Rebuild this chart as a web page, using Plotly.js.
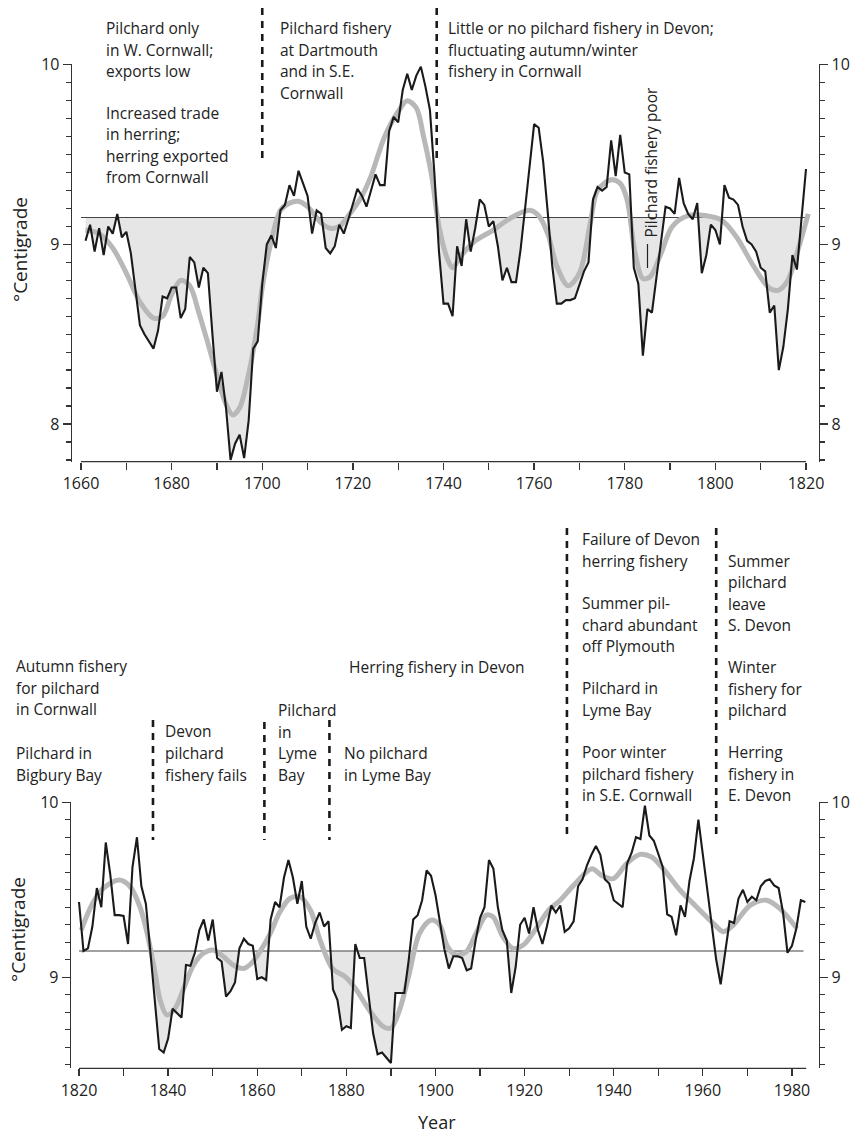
<!DOCTYPE html>
<html><head><meta charset="utf-8">
<script src="https://cdn.plot.ly/plotly-3.0.1.min.js"></script>
<style>body{margin:0;background:#fff}</style>
</head><body><div id="chart" style="width:851px;height:1137px"></div>
<script>
// ---------------- DATA ----------------
const meanTemp = 9.15;

const topStartYear = 1661;
const topTemps = [
  9.02, 9.11, 8.96, 9.09, 8.94, 9.10, 9.06, 9.17, 9.04, 9.07,
  8.95, 8.74, 8.55, 8.50, 8.46, 8.42, 8.52, 8.71, 8.70, 8.76,
  8.76, 8.59, 8.64, 8.93, 8.90, 8.76, 8.87, 8.84, 8.50, 8.18,
  8.29, 8.09, 7.80, 7.89, 7.94, 7.81, 8.02, 8.42, 8.46, 8.78,
  9.00, 9.05, 8.98, 9.19, 9.22, 9.33, 9.27, 9.41, 9.34, 9.27,
  9.06, 9.19, 9.17, 8.98, 8.95, 8.99, 9.11, 9.06, 9.14, 9.22,
  9.31, 9.27, 9.21, 9.30, 9.39, 9.33, 9.33, 9.63, 9.71, 9.68,
  9.86, 9.95, 9.86, 9.94, 9.99, 9.88, 9.75, 9.39, 8.96, 8.67,
  8.67, 8.60, 8.99, 8.88, 9.14, 8.96, 9.09, 9.25, 9.22, 9.10,
  9.13, 8.99, 8.80, 8.87, 8.79, 8.79, 8.97, 9.20, 9.43, 9.67,
  9.65, 9.46, 9.18, 8.88, 8.67, 8.67, 8.69, 8.69, 8.70, 8.77,
  8.85, 8.90, 9.25, 9.32, 9.30, 9.32, 9.58, 9.38, 9.61, 9.40,
  9.39, 8.87, 8.78, 8.38, 8.64, 8.62, 8.82, 9.02, 9.21, 9.20,
  9.17, 9.37, 9.23, 9.17, 9.14, 9.23, 8.84, 8.94, 9.11, 9.08,
  9.00, 9.33, 9.26, 9.25, 9.22, 9.10, 9.02, 9.00, 8.96, 8.87,
  8.85, 8.62, 8.66, 8.30, 8.43, 8.64, 8.94, 8.86, 9.15, 9.42
];
const topSmoothYears = [1661,1664,1667,1670,1673,1676,1678,1680,1682,1684,1686,1688,1690,1692,1693.5,1695,1697,1699,1700,1702,1704,1706,1708,1710,1713,1715,1717,1719,1722,1724,1727,1730,1732,1734,1735.6,1737.4,1739,1741,1742,1744,1747,1751,1755,1759,1761,1763,1765,1767.5,1770,1772.4,1774,1777,1779,1780.5,1782.3,1784,1785.6,1788,1790.5,1794,1798,1801.4,1804.7,1808.4,1812,1814,1816,1818,1820.5];
const topSmoothTemps = [9.08,9.06,8.98,8.84,8.68,8.59,8.60,8.72,8.80,8.77,8.62,8.45,8.27,8.11,8.05,8.09,8.28,8.56,8.76,9.02,9.19,9.23,9.24,9.21,9.12,9.09,9.10,9.16,9.27,9.38,9.60,9.74,9.80,9.76,9.60,9.38,9.10,8.91,8.87,8.94,9.02,9.08,9.15,9.19,9.16,9.06,8.88,8.77,8.84,9.12,9.30,9.36,9.34,9.25,8.95,8.81,8.82,8.95,9.10,9.16,9.16,9.135,9.04,8.88,8.755,8.745,8.80,8.95,9.17];

const bottomStartYear = 1820;
const bottomTemps = [
  9.43, 9.15, 9.165, 9.29, 9.51, 9.40, 9.77, 9.59, 9.355, 9.355,
  9.35, 9.19, 9.63, 9.80, 9.52, 9.42, 9.15, 8.85, 8.59, 8.57,
  8.65, 8.82, 8.795, 8.77, 9.07, 9.065, 9.14, 9.27, 9.33, 9.21,
  9.33, 9.11, 9.09, 8.89, 8.92, 8.97, 9.165, 9.22, 9.19, 9.18,
  8.99, 9.00, 8.985, 9.33, 9.43, 9.40, 9.57, 9.67, 9.57, 9.42,
  9.55, 9.29, 9.22, 9.31, 9.37, 9.29, 9.32, 8.93, 8.87, 8.70,
  8.72, 8.71, 9.19, 9.11, 9.11, 8.90, 8.68, 8.56, 8.57, 8.54,
  8.51, 8.91, 8.91, 8.91, 9.10, 9.33, 9.355, 9.44, 9.61, 9.58,
  9.47, 9.31, 9.16, 9.05, 9.12, 9.12, 9.11, 9.04, 9.05, 9.21,
  9.34, 9.40, 9.67, 9.62, 9.40, 9.27, 9.21, 8.91, 9.06, 9.30,
  9.34, 9.25, 9.40, 9.27, 9.19, 9.29, 9.41, 9.37, 9.41, 9.26,
  9.28, 9.32, 9.52, 9.56, 9.64, 9.70, 9.75, 9.70, 9.56, 9.535,
  9.44, 9.42, 9.40, 9.65, 9.71, 9.80, 9.79, 9.98, 9.81, 9.78,
  9.71, 9.63, 9.36, 9.345, 9.24, 9.41, 9.345, 9.55, 9.68, 9.90,
  9.70, 9.50, 9.30, 9.10, 8.96, 9.155, 9.32, 9.31, 9.45, 9.50,
  9.43, 9.46, 9.44, 9.52, 9.55, 9.56, 9.525, 9.51, 9.37, 9.14,
  9.18, 9.28, 9.44, 9.43
];
const bottomSmoothYears = [1820.5,1823,1825.5,1829,1831.4,1833.7,1835.3,1837.1,1838.2,1839.7,1841.5,1843.4,1845.7,1847.9,1850.1,1852.4,1854.6,1856.9,1858.7,1860.6,1862.9,1865.1,1867.3,1869.6,1872,1874,1876.9,1879.9,1882.2,1885.2,1888.2,1890,1891.9,1894.1,1896.4,1899,1900.9,1902.7,1904.6,1906.9,1909.1,1911.4,1912.9,1915.1,1917.4,1919.7,1922.6,1925.4,1928,1931,1935.1,1937.3,1939.9,1942.9,1945.9,1948.5,1951.1,1954.9,1958.6,1962.4,1964.6,1966.8,1970.6,1974.3,1977.3,1981.1];
const bottomSmoothTemps = [9.27,9.42,9.51,9.555,9.52,9.40,9.25,9.02,8.87,8.785,8.82,8.93,9.07,9.137,9.156,9.118,9.07,9.05,9.08,9.146,9.25,9.374,9.45,9.46,9.38,9.22,9.05,9.00,8.93,8.81,8.72,8.71,8.81,9.02,9.25,9.326,9.30,9.175,9.127,9.146,9.25,9.355,9.346,9.232,9.165,9.184,9.279,9.383,9.44,9.525,9.62,9.582,9.563,9.649,9.702,9.687,9.62,9.497,9.402,9.307,9.26,9.297,9.411,9.44,9.392,9.279];

const topTickYears = [1660,1670,1680,1690,1700,1710,1720,1730,1740,1750,1760,1770,1780,1790,1800,1810,1820];
const topTickLabels = ['1660','','1680','','1700','','1720','','1740','','1760','','1780','','1800','','1820'];
const bottomTickYears = [1820,1830,1840,1850,1860,1870,1880,1890,1900,1910,1920,1930,1940,1950,1960,1970,1980];
const bottomTickLabels = ['1820','','1840','','1860','','1880','','1900','','1920','','1940','','1960','','1980'];

// ---------------- LAYOUT GEOMETRY ----------------
const W = 851, H = 1137;
const topXDom = [72/W, 819/W], topXRange = [1658.01, 1822.87];
const topYDom = [1-461.7/H, 1-64.3/H], topYRange = [7.79, 10.003];
const botXDom = [71/W, 819/W], botXRange = [1818.2, 1986.07];
const botYDom = [1-1068.3/H, 1-801.7/H], botYRange = [8.48, 10.003];
const topAxisSpan = [1660, 1820], botAxisSpan = [1820, 1983.2];
const topMeanSpan = [1660, 1820], botMeanSpan = [1820, 1982.6];

function xp(year, dom, rng){ return dom[0] + (year - rng[0])/(rng[1]-rng[0])*(dom[1]-dom[0]); }
function pX(px){ return px/W; }
function pY(py){ return 1 - py/H; }

function yearsFrom(start, n){ const a=[]; for(let i=0;i<n;i++) a.push(start+i); return a; }
const topYears = yearsFrom(topStartYear, topTemps.length);
const bottomYears = yearsFrom(bottomStartYear, bottomTemps.length);

function fillBelow(xs, ys, m){
  const px=[], py=[];
  for(let i=0;i<xs.length;i++){
    if(i>0){
      const y0=ys[i-1], y1=ys[i];
      if((y0-m)*(y1-m)<0){
        const t=(m-y0)/(y1-y0);
        px.push(xs[i-1]+t*(xs[i]-xs[i-1])); py.push(m);
      }
    }
    px.push(xs[i]); py.push(Math.min(ys[i], m));
  }
  return {x: px.concat([px[px.length-1], px[0]]), y: py.concat([m, m])};
}

const black = '#1a1a1a', greyLine = '#b8b8b8', shade = '#e6e6e6', axisCol = '#333', txtCol = '#222';
const FONT = 'Open Sans, Noto Sans, sans-serif';

function panelTraces(xs, ys, sx, sy, meanSpan, xa, ya){
  const f = fillBelow(xs, ys, meanTemp);
  return [
    {x:f.x, y:f.y, xaxis:xa, yaxis:ya, type:'scatter', mode:'lines', fill:'toself', fillcolor:shade, line:{width:0}, hoverinfo:'skip', showlegend:false},
    {x:meanSpan, y:[meanTemp, meanTemp], xaxis:xa, yaxis:ya, type:'scatter', mode:'lines', line:{color:'#444', width:1.1}, hoverinfo:'skip', showlegend:false},
    {x:sx, y:sy, xaxis:xa, yaxis:ya, type:'scatter', mode:'lines', line:{color:greyLine, width:5, shape:'spline', smoothing:0.9}, hoverinfo:'skip', showlegend:false},
    {x:xs, y:ys, xaxis:xa, yaxis:ya, type:'scatter', mode:'lines', line:{color:black, width:2.1}, hoverinfo:'skip', showlegend:false}
  ];
}

const traces = [].concat(
  panelTraces(topYears, topTemps, topSmoothYears, topSmoothTemps, topMeanSpan, 'x', 'y'),
  panelTraces(bottomYears, bottomTemps, bottomSmoothYears, bottomSmoothTemps, botMeanSpan, 'x2', 'y2'),
  [{x:[], y:[], xaxis:'x', yaxis:'y3', type:'scatter', showlegend:false},
   {x:[], y:[], xaxis:'x2', yaxis:'y4', type:'scatter', showlegend:false}]
);

const tickFont = {family: FONT, size: 16, color: txtCol};
function xAxis(dom, rng, anchor, vals, labels){
  return {domain:dom, range:rng, anchor:anchor, tickmode:'array', tickvals:vals, ticktext:labels,
    ticks:'outside', ticklen:7, tickwidth:1.3, tickcolor:axisCol, showline:false, showgrid:false,
    zeroline:false, tickfont:tickFont, fixedrange:true};
}
function yAxis(dom, rng, anchor, side, overlay){
  const a = {domain:dom, range:rng, anchor:anchor, side:side, tickmode:'linear', tick0:0, dtick:1,
    ticks:'outside', ticklen:8, tickwidth:1.3, tickcolor:axisCol,
    minor:{tick0:0, dtick:0.1, ticks:'outside', ticklen:5, tickwidth:1.3, tickcolor:axisCol},
    showline:true, linecolor:axisCol, linewidth:1.3, showgrid:false, zeroline:false,
    tickfont:tickFont, fixedrange:true};
  if(overlay) a.overlaying = overlay;
  return a;
}

// annotation text blocks: [x px, first line y px, line step px, lines]
const topTextBlocks = [
  [105, 28, 21.6, ['Pilchard only','in W. Cornwall;','exports low']],
  [105, 113, 21.3, ['Increased trade','in herring;','herring exported','from Cornwall']],
  [279, 28, 21.6, ['Pilchard fishery','at Dartmouth','and in S.E.','Cornwall']],
  [447, 28, 21.6, ['Little or no pilchard fishery in Devon;','fluctuating autumn/winter','fishery in Cornwall']]
];
const bottomTextBlocks = [
  [15, 666, 21.5, ['Autumn fishery','for pilchard','in Cornwall']],
  [15, 753, 21.5, ['Pilchard in','Bigbury Bay']],
  [164, 731, 21.8, ['Devon','pilchard','fishery fails']],
  [277, 710, 21.7, ['Pilchard','in','Lyme','Bay']],
  [343, 753, 21.5, ['No pilchard','in Lyme Bay']],
  [348, 667, 21.5, ['Herring fishery in Devon']],
  [581, 539, 21.6, ['Failure of Devon','herring fishery']],
  [581, 603, 21.6, ['Summer pil-','chard abundant','off Plymouth']],
  [581, 688, 21.6, ['Pilchard in','Lyme Bay']],
  [581, 752, 21.6, ['Poor winter','pilchard fishery','in S.E. Cornwall']],
  [727, 561, 21.4, ['Summer','pilchard','leave','S. Devon']],
  [727, 667, 21.6, ['Winter','fishery for','pilchard']],
  [727, 752, 21.6, ['Herring','fishery in','E. Devon']]
];

const annFont = {family: FONT, size: 15.5, color: txtCol};
const annotations = [];
topTextBlocks.concat(bottomTextBlocks).forEach(b => {
  b[3].forEach((t, i) => {
    annotations.push({xref:'paper', yref:'paper', x:pX(b[0]), y:pY(b[1] + i*b[2]), text:t,
      showarrow:false, xanchor:'left', yanchor:'middle', align:'left', font:annFont, borderpad:0});
  });
});
annotations.push({xref:'paper', yref:'paper', x:pX(650.5), y:pY(162), text:'Pilchard fishery poor',
  textangle:-90, showarrow:false, xanchor:'center', yanchor:'middle', font:annFont, borderpad:0});
annotations.push({xref:'paper', yref:'paper', x:pX(20), y:pY(250), text:'°Centigrade',
  textangle:-90, showarrow:false, xanchor:'center', yanchor:'middle', font:{family:FONT, size:19, color:txtCol}});
annotations.push({xref:'paper', yref:'paper', x:pX(18), y:pY(930), text:'°Centigrade',
  textangle:-90, showarrow:false, xanchor:'center', yanchor:'middle', font:{family:FONT, size:19, color:txtCol}});
annotations.push({xref:'paper', yref:'paper', x:pX(437), y:pY(1122), text:'Year',
  showarrow:false, xanchor:'center', yanchor:'middle', font:{family:FONT, size:18, color:txtCol}});

// dashed divider lines: [year, top px, bottom px, panel]
const topDividers = [[1700, 8, 160], [1738.5, 8, 160]];
const bottomDividers = [[1836.6, 720, 840], [1861.6, 722, 840], [1876.2, 720, 840], [1929.5, 528, 838], [1963, 528, 838]];

const shapes = [];
topDividers.forEach(d => shapes.push({type:'line', xref:'paper', yref:'paper',
  x0:xp(d[0], topXDom, topXRange), x1:xp(d[0], topXDom, topXRange), y0:pY(d[1]), y1:pY(d[2]),
  line:{color:black, width:2.6, dash:'7px,6px'}}));
bottomDividers.forEach(d => shapes.push({type:'line', xref:'paper', yref:'paper',
  x0:xp(d[0], botXDom, botXRange), x1:xp(d[0], botXDom, botXRange), y0:pY(d[1]), y1:pY(d[2]),
  line:{color:black, width:2.6, dash:'7px,6px'}}));
// x axis lines
shapes.push({type:'line', xref:'paper', yref:'paper', x0:xp(topAxisSpan[0], topXDom, topXRange), x1:xp(topAxisSpan[1], topXDom, topXRange), y0:topYDom[0], y1:topYDom[0], line:{color:axisCol, width:1.3}});
shapes.push({type:'line', xref:'paper', yref:'paper', x0:xp(botAxisSpan[0], botXDom, botXRange), x1:xp(botAxisSpan[1], botXDom, botXRange), y0:botYDom[0], y1:botYDom[0], line:{color:axisCol, width:1.3}});
// dash before "Pilchard fishery poor"
shapes.push({type:'line', xref:'paper', yref:'paper', x0:pX(647.5), x1:pX(647.5), y0:pY(244), y1:pY(268), line:{color:txtCol, width:1.2}});

const layout = {
  width: W, height: H, margin:{l:0, r:0, t:0, b:0}, paper_bgcolor:'#fff', plot_bgcolor:'rgba(0,0,0,0)',
  showlegend:false, hovermode:false, font:{family:FONT, color:txtCol},
  xaxis: xAxis(topXDom, topXRange, 'y', topTickYears, topTickLabels),
  yaxis: yAxis(topYDom, topYRange, 'x', 'left'),
  yaxis3: yAxis(topYDom, topYRange, 'x', 'right', 'y'),
  xaxis2: xAxis(botXDom, botXRange, 'y2', bottomTickYears, bottomTickLabels),
  yaxis2: yAxis(botYDom, botYRange, 'x2', 'left'),
  yaxis4: yAxis(botYDom, botYRange, 'x2', 'right', 'y2'),
  shapes: shapes, annotations: annotations
};

Plotly.newPlot('chart', traces, layout, {staticPlot:true, displayModeBar:false});
</script></body></html>
